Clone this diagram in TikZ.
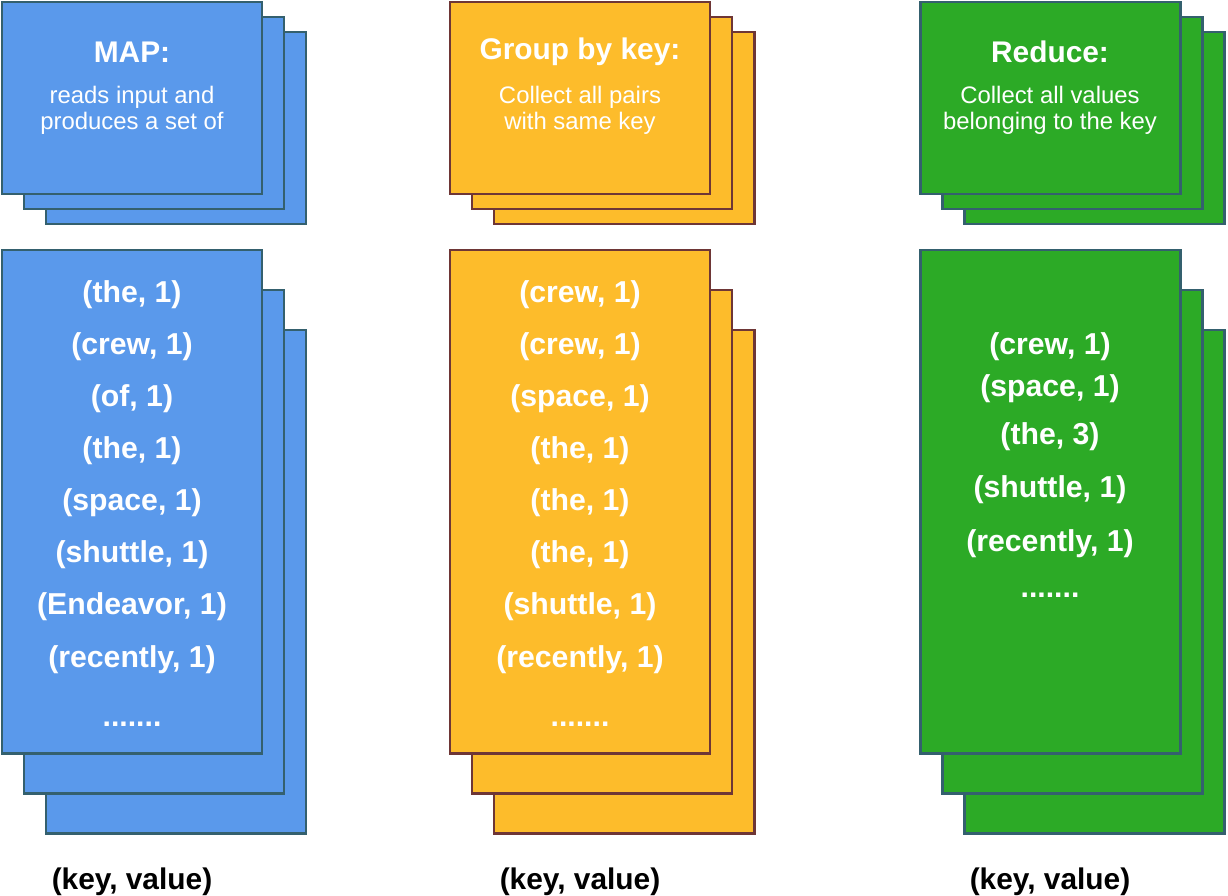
\documentclass[tikz,border=0pt]{standalone}
\usepackage{fontspec}
\setmainfont{Liberation Sans}
\usetikzlibrary{positioning}

\definecolor{mapfill}{HTML}{5A99EB}
\definecolor{mapline}{HTML}{34606E}
\definecolor{groupfill}{HTML}{FDBC2B}
\definecolor{groupline}{HTML}{6E3636}
\definecolor{reducefill}{HTML}{2CAA26}

\tikzset{
	card/.style={line width=1.7pt},
	title/.style={text=white, font=\fontsize{17}{20}\selectfont\bfseries},
	subtitle/.style={text=white, align=center, font=\fontsize{13.6}{14.7}\selectfont},
	pair/.style={text=white, font=\fontsize{17.2}{20}\selectfont\bfseries},
	keyval/.style={text=black, font=\fontsize{17}{20}\selectfont\bfseries}
}

\begin{document}
\begin{tikzpicture}[x=0.02cm, y=-0.02cm]
	\useasboundingbox (0,0) rectangle (1228,896);
	% three stacks of cards
	\foreach \cx/\fillc/\linec in {0/mapfill/mapline, 448/groupfill/groupline, 918/reducefill/mapline} {
		\foreach \i in {2,1,0} {
			\draw[card, fill=\fillc, draw=\linec] (\cx+2+22*\i, 2+15*\i) rectangle ++(260,192);
			\draw[card, fill=\fillc, draw=\linec] (\cx+2+22*\i, 250+40*\i) rectangle ++(260,503);
		}
	}
	% MAP
	\node[title] (maptitle) at (132,52) {MAP:};
	\node[subtitle] (maptext) at (132,110) {reads input and\\produces a set of};
	\foreach \y/\txt [count=\k] in {295/{(the, 1)}, 347/{(crew, 1)}, 399/{(of, 1)}, 451/{(the, 1)}, 503/{(space, 1)}, 555/{(shuttle, 1)}, 607/{(Endeavor, 1)}, 660/{(recently, 1)}, 724/{.......}}
		\node[pair] (map\k) at (132,\y) {\txt};
	\node[keyval] (mapkey) at (132,882) {(key, value)};
	% Group by key
	\node[title] (grouptitle) at (580,52) {Group by key:};
	\node[subtitle] (grouptext) at (580,110) {Collect all pairs\\with same key};
	\foreach \y/\txt [count=\k] in {295/{(crew, 1)}, 347/{(crew, 1)}, 399/{(space, 1)}, 451/{(the, 1)}, 503/{(the, 1)}, 555/{(the, 1)}, 607/{(shuttle, 1)}, 660/{(recently, 1)}, 724/{.......}}
		\node[pair] (group\k) at (580,\y) {\txt};
	\node[keyval] (groupkey) at (580,882) {(key, value)};
	% Reduce
	\node[title] (reducetitle) at (1050,52) {Reduce:};
	\node[subtitle] (reducetext) at (1050,110) {Collect all values\\belonging to the key};
	\foreach \y/\txt [count=\k] in {347/{(crew, 1)}, 389/{(space, 1)}, 437/{(the, 3)}, 490/{(shuttle, 1)}, 544/{(recently, 1)}, 595/{.......}}
		\node[pair] (reduce\k) at (1050,\y) {\txt};
	\node[keyval] (reducekey) at (1050,882) {(key, value)};
\end{tikzpicture}
\end{document}
